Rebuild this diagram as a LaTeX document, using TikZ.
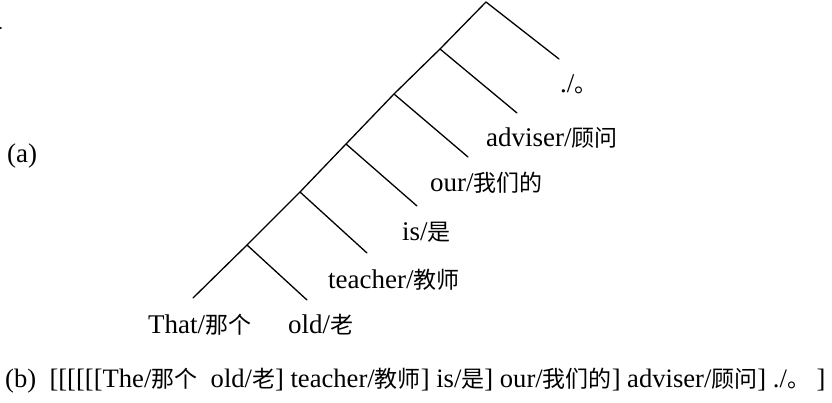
\documentclass[tikz,border=0pt]{standalone}
\usepackage{fontspec}
\setmainfont{Liberation Serif}
\newfontfamily\cjk{Noto Sans CJK SC}
\newcommand\zh[1]{{\cjk\fontsize{23}{27}\selectfont #1}}
\begin{document}
\begin{tikzpicture}[x=1pt,y=-1pt,
  edge/.style={line width=1.3pt,line cap=round},
  lab/.style={anchor=base west,inner sep=0pt,font=\fontsize{27}{31}\selectfont}]
\useasboundingbox (0,0) rectangle (832,403);
\fill (0.8,28) circle (1.1);
% diagonal branch points
\coordinate (d0) at (193,298);
\coordinate (d1) at (247,245);
\coordinate (d2) at (300,192);
\coordinate (d3) at (346,144);
\coordinate (d4) at (394,94);
\coordinate (d5) at (440,49);
\coordinate (d6) at (486,2);
% branch ends
\coordinate (e1) at (307,300);
\coordinate (e2) at (367,253);
\coordinate (e3) at (417,206);
\coordinate (e4) at (468,157);
\coordinate (e5) at (517,113);
\coordinate (e6) at (559,59);
\draw[edge] (d0) -- (d1) -- (d2) -- (d3) -- (d4) -- (d5) -- (d6);
\draw[edge] (d1) -- (e1);
\draw[edge] (d2) -- (e2);
\draw[edge] (d3) -- (e3);
\draw[edge] (d4) -- (e4);
\draw[edge] (d5) -- (e5);
\draw[edge] (d6) -- (e6);
% labels
\node[lab] (w1) at (148,333) {That/\zh{那个}};
\node[lab] (w2) at (288,333) {old/\zh{老}};
\node[lab] (w3) at (328,288) {teacher/\zh{教师}};
\node[lab] (w4) at (402,241) {is/\zh{是}};
\node[lab] (w5) at (430,192) {our/\zh{我们的}};
\node[lab] (w6) at (486,147) {adviser/\zh{顾问}};
\node[lab] (w7) at (560,93) {./\zh{。}};
\node[lab] (a) at (7,163) {(a)};
\node[lab,font=\fontsize{26.6}{31}\selectfont] (b) at (5,387) {(b)\ \ [[[[[[The/\zh{那个}\ \ old/\zh{老}] teacher/\zh{教师}] is/\zh{是}] our/\zh{我们的}] adviser/\zh{顾问}] ./\zh{。} ]};
\end{tikzpicture}
\end{document}
